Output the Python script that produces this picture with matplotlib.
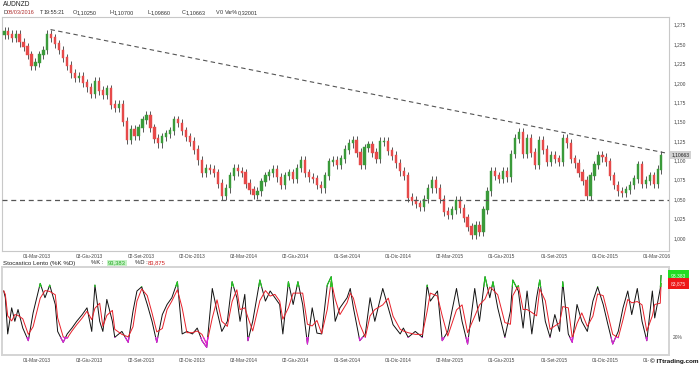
import numpy as np
import pandas as pd
import matplotlib
matplotlib.use("Agg")
import matplotlib.pyplot as plt
from matplotlib.patches import Rectangle

plt.rcParams['font.family'] = ['Liberation Sans', 'DejaVu Sans']

# ---------------- data ----------------
symbol = "AUDNZD"
start_date = "2013-01-02"
end_date = "2016-03-08"

# weekly closes, first week of Jan 2013 .. week of 7 Mar 2016
closes = [
    1.266, 1.262, 1.258, 1.262, 1.252, 1.246, 1.236, 1.222, 1.226, 1.236,
    1.242, 1.262, 1.258, 1.250, 1.242, 1.232, 1.222, 1.212, 1.206, 1.208,
    1.200, 1.194, 1.186, 1.202, 1.190, 1.184, 1.192, 1.172, 1.168, 1.172,
    1.150, 1.126, 1.140, 1.132, 1.142, 1.152, 1.158, 1.142, 1.128, 1.122,
    1.130, 1.134, 1.138, 1.152, 1.148, 1.138, 1.130, 1.124, 1.114, 1.100,
    1.084, 1.090, 1.088, 1.084, 1.070, 1.054, 1.064, 1.080, 1.090, 1.086,
    1.084, 1.070, 1.062, 1.056, 1.060, 1.072, 1.080, 1.084, 1.088, 1.078,
    1.068, 1.080, 1.084, 1.076, 1.090, 1.100, 1.084, 1.078, 1.076, 1.068,
    1.064, 1.080, 1.098, 1.100, 1.094, 1.102, 1.114, 1.122, 1.126, 1.110,
    1.094, 1.116, 1.120, 1.110, 1.102, 1.124, 1.124, 1.112, 1.106, 1.096,
    1.086, 1.080, 1.052, 1.048, 1.044, 1.040, 1.050, 1.064, 1.074, 1.064,
    1.050, 1.034, 1.030, 1.036, 1.048, 1.038, 1.026, 1.014, 1.004, 1.016,
    1.008, 1.036, 1.060, 1.086, 1.080, 1.076, 1.086, 1.078, 1.108, 1.128,
    1.136, 1.108, 1.128, 1.110, 1.094, 1.126, 1.114, 1.098, 1.106, 1.102,
    1.098, 1.128, 1.122, 1.102, 1.096, 1.084, 1.074, 1.054, 1.080, 1.094,
    1.106, 1.104, 1.098, 1.080, 1.068, 1.060, 1.058, 1.062, 1.068, 1.076,
    1.094, 1.070, 1.074, 1.080, 1.070, 1.088, 1.10663,
]
first_open = 1.262
wick = 0.0055

tick_dates = ["2013-03-01", "2013-06-03", "2013-09-02", "2013-12-02",
              "2014-03-03", "2014-06-02", "2014-09-01", "2014-12-01",
              "2015-03-02", "2015-06-01", "2015-09-01", "2015-12-01",
              "2016-03-01"]
tick_labels = ["01-Mar-2013", "03-Giu-2013", "02-Set-2013", "02-Dic-2013",
               "03-Mar-2014", "02-Giu-2014", "01-Set-2014", "01-Dic-2014",
               "02-Mar-2015", "01-Giu-2015", "01-Set-2015", "01-Dic-2015",
               "01-Mar-2016"]

price_ticks = [1.000, 1.025, 1.050, 1.075, 1.100, 1.125, 1.150,
               1.175, 1.200, 1.225, 1.250, 1.275]
trend_dates = ["2013-03-26", "2016-03-16"]
trend_values = [1.2686, 1.1095]
support_level = 1.049

last_price = "1,10663"
header_items = [("D", "08/03/2016"), ("T", "19:55:21"), ("O", "1,10250"),
                ("H", "1,10700"), ("L", "1,09860"), ("C", "1,10663"),
                ("V", "0"), ("Var%", "0,32001")]
k_text, d_text = "93,383", "83,875"
k_last, d_last = 93.383, 83.875
stoch_ticks = [20, 80]

# slow stochastic %K (trading-day index, value)
stoch_day = [
    0, 2, 5, 10, 14, 18, 24, 31, 37, 46, 52, 58, 65, 68, 75, 80, 86, 92, 99,
    105, 111, 115, 121, 125, 130, 137, 140, 149, 157, 163, 168, 174, 181, 187,
    193, 200, 206, 212, 219, 225, 231, 238, 244, 250, 256, 263, 269, 275, 282,
    288, 294, 298, 304, 308, 314, 323, 330, 336, 342, 348, 352, 359, 365, 371,
    377, 383, 389, 395, 401, 408, 413, 418, 424, 433, 437, 441, 449, 456, 462,
    468, 478, 485, 491, 500, 504, 510, 519, 528, 534, 538, 547, 553, 560, 571,
    578, 585, 594, 600, 607, 613, 617, 623, 632, 639, 642, 649, 655, 660, 666,
    672, 676, 683, 689, 695, 701, 705, 712, 717, 723, 729, 736, 743, 749, 756,
    762, 768, 775, 781, 787, 792, 799, 805, 811, 818, 821, 828, 829,
]
stoch_k = [
    75, 67, 24, 55, 39, 53, 31, 16, 49, 84, 67, 82, 59, 27, 14, 24, 31, 39, 47,
    55, 27, 82, 39, 27, 65, 39, 20, 27, 14, 51, 75, 80, 59, 39,
    14, 47, 59, 67, 86, 24, 27, 24, 31, 16, 8, 78, 51, 27, 39,
    86, 67, 39, 71, 16, 39, 88, 63, 75, 67, 59, 24, 86, 59, 86,
    59, 12, 55, 25, 24, 82, 92, 39, 55, 67, 78, 55, 16, 24, 67,
    39, 78, 55, 35, 24, 31, 20, 27, 20, 82, 63, 75, 16, 27, 78,
    39, 12, 78, 39, 92, 67, 86, 55, 20, 51, 88, 75, 31, 75, 24,
    67, 88, 39, 20, 47, 27, 86, 24, 14, 59, 39, 27, 63, 80, 59,
    35, 12, 27, 55, 75, 47, 78, 39, 16, 75, 43, 78, 93.383,
]

# ---------------- layout helpers ----------------
all_days = pd.bdate_range(start_date, "2016-03-31")
days = all_days[all_days <= pd.Timestamp(end_date)]
day_idx = np.arange(len(days))
weeks = days.to_period("W-SUN")
centers = pd.Series(day_idx).groupby(np.asarray(weeks.astype(str))).mean()
centers = np.sort(centers.values)[-len(closes):]

def date_pos(d):
    return float(all_days.searchsorted(pd.Timestamp(d)))

c = np.array(closes)
o = np.concatenate([[first_open], c[:-1]])
h = np.maximum(o, c) + wick
l = np.minimum(o, c) - wick

W, H = 700, 365
fig = plt.figure(figsize=(W / 100, H / 100), dpi=100)

def ax_rect(x0, y0, x1, y1):
    return [x0 / W, 1 - y1 / H, (x1 - x0) / W, (y1 - y0) / H]

ax = fig.add_axes(ax_rect(2, 17, 669, 251))
ax2 = fig.add_axes(ax_rect(2, 267, 669, 355))

xlim = (-2.2, 839)
for a in (ax, ax2):
    a.set_xlim(*xlim)
    a.set_facecolor("white")

ylo, yhi = 0.9832, 1.2848
ax.set_ylim(ylo, yhi)

# candles
green, red = "#3a9a3a", "#e64a4a"
cols = np.where(c >= o, green, red)
ax.vlines(centers, l, h, colors="#3b3b3b", linewidth=0.6, zorder=2)
ax.bar(centers, np.abs(c - o) + 0.0008, bottom=np.minimum(o, c), width=2.8,
       color=cols, edgecolor=cols, linewidth=0.3, zorder=3)

# trend lines
ax.plot([date_pos(d) for d in trend_dates], trend_values, color="#555555",
        lw=0.8, dashes=(4, 3), zorder=4)
ax.axhline(support_level, color="#555555", lw=0.9, dashes=(4, 3), zorder=4)

# axes cosmetics
for a in (ax, ax2):
    for s in a.spines.values():
        s.set_color("#c8c8c8")
        s.set_linewidth(0.8)
    a.set_xticks([date_pos(d) for d in tick_dates])
    a.set_xticklabels(tick_labels, fontsize=3.5, color="#444444")
    a.tick_params(axis="x", length=0, pad=2.5)
for s in ax2.spines.values():
    s.set_linewidth(1.4)
    s.set_color("#d4d4d4")

ax.yaxis.tick_right()
ax.set_yticks(price_ticks)
ax.set_yticklabels([f"{v:.3f}".replace(".", ",") for v in price_ticks],
                   fontsize=3.5, color="#444444")
ax.tick_params(axis="y", length=0, pad=3)

# last price box
ax.text(1.004, (c[-1] - ylo) / (yhi - ylo), last_price,
        transform=ax.transAxes, fontsize=3.6, color="#222222", va="center",
        ha="left", bbox=dict(boxstyle="square,pad=0.35", fc="#d2d2d2",
                             ec="none"), clip_on=False)

# ---------------- stochastic ----------------
sx = np.array(stoch_day, dtype=float)
k_line = np.array(stoch_k, dtype=float)
d_line = pd.Series(k_line).rolling(2, min_periods=1).mean().values
d_line[-1] = d_last

slo, shi = -1, 103.5
ax2.set_ylim(slo, shi)
ax2.plot(sx, k_line, color="#111111", lw=0.7, zorder=3)
ax2.plot(sx, d_line, color="#e8202a", lw=0.7, zorder=4)
for series in (k_line, d_line):
    hi = ax2.plot(sx, series, color="#22cc22", lw=0.8, zorder=5)[0]
    hi.set_clip_path(Rectangle((xlim[0], 80), xlim[1] - xlim[0], 40,
                               transform=ax2.transData))
    lo = ax2.plot(sx, series, color="#e020e0", lw=0.8, zorder=5)[0]
    lo.set_clip_path(Rectangle((xlim[0], -10), xlim[1] - xlim[0], 30,
                               transform=ax2.transData))

ax2.yaxis.tick_right()
ax2.set_yticks(stoch_ticks)
ax2.set_yticklabels([f"{t}%" for t in stoch_ticks], fontsize=3.5,
                    color="#444444")
ax2.tick_params(axis="y", length=0, pad=3)

def yfrac(v):
    return (v - slo) / (shi - slo)

ax2.text(1.003, yfrac(k_last), k_text, transform=ax2.transAxes,
         fontsize=3.6, color="#e8ffe8", va="center", ha="left",
         bbox=dict(boxstyle="square,pad=0.55", fc="#22dd22", ec="none"),
         clip_on=False, zorder=10)
ax2.text(1.003, yfrac(d_last), d_text, transform=ax2.transAxes,
         fontsize=3.6, color="#ffe0e0", va="center", ha="left",
         bbox=dict(boxstyle="square,pad=0.55", fc="#ee1818", ec="none"),
         clip_on=False, zorder=10)

# ---------------- header texts ----------------
fig.text(3 / W, 1 - 5 / H, symbol, fontsize=4.8, color="#222222",
         va="center", ha="left")
xs = [3, 40, 73, 110, 147, 182, 216, 225]
for (lab, val), x in zip(header_items, xs):
    fig.text(x / W, 1 - 13 / H, lab, fontsize=4.0, color="#333333",
             va="center", ha="left")
    gap = 3.5 if len(lab) == 1 else 13
    fig.text((x + gap) / W, 1 - 13 / H, val, fontsize=4.0,
             color="#b03030" if lab == "D" else "#333333",
             va="center", ha="left")

fig.text(3 / W, 1 - 263 / H, "Stocastico Lento (%K %D)", fontsize=4.4,
         color="#222222", va="center", ha="left")
fig.text(91 / W, 1 - 263 / H, "%K :", fontsize=4.2, color="#222222",
         va="center", ha="left")
fig.text(108 / W, 1 - 263 / H, k_text, fontsize=4.2, color="#22aa22",
         va="center", ha="left",
         bbox=dict(boxstyle="square,pad=0.15", fc="#c8f2c8", ec="none"))
fig.text(135 / W, 1 - 263 / H, "%D :", fontsize=4.2, color="#222222",
         va="center", ha="left")
fig.text(148 / W, 1 - 263 / H, d_text, fontsize=4.2, color="#d02020",
         va="center", ha="left")

fig.text(698 / W, 1 - 361 / H, "\u00a9 ITtrading.com", fontsize=4.6,
         fontweight="bold", color="#111111", va="center", ha="right",
         bbox=dict(boxstyle="square,pad=0.1", fc="white", ec="none"))

fig.savefig("out.png", dpi=100, facecolor="white")
